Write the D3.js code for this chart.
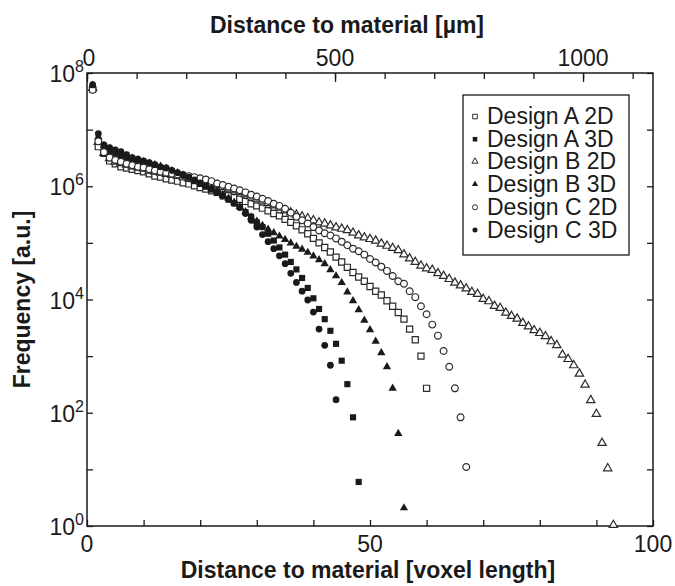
<!DOCTYPE html>
<html>
<head>
<meta charset="utf-8">
<script src="https://cdn.jsdelivr.net/npm/d3@7/dist/d3.min.js"></script>
<style>
  body { margin: 0; background: #fff; }
  svg { font-family: "Liberation Sans", Arial, sans-serif; }
</style>
</head>
<body>
<svg width="675" height="586"></svg>
<script>
// frequency per distance bin, bins start at 1 voxel and go up in steps of 1
var designA2D = [5.2e7, 5.0e6, 3.8e6, 2.8e6, 2.5e6, 2.2e6, 2.1e6, 2.0e6, 1.9e6, 1.8e6,
  1.66e6, 1.51e6, 1.45e6, 1.35e6, 1.29e6, 1.23e6, 1.15e6, 1.10e6, 1.02e6, 9.5e5,
  8.9e5, 8.3e5, 7.8e5, 7.2e5, 6.8e5, 6.3e5, 5.9e5, 5.4e5, 4.9e5, 4.5e5,
  4.1e5, 3.7e5, 3.3e5, 3.0e5, 2.6e5, 2.3e5, 2.0e5, 1.7e5, 1.45e5, 1.2e5,
  1.0e5, 8.3e4, 6.9e4, 5.6e4, 4.6e4, 3.7e4, 3.0e4, 2.5e4, 2.1e4, 1.7e4,
  1.4e4, 1.2e4, 9500, 7600, 5900, 4500, 3000, 1950, 1000, 270];

var designA3D = [5.6e7, 6.6e6, 5.0e6, 4.2e6, 3.8e6, 3.5e6, 3.2e6, 3.0e6, 2.75e6, 2.6e6,
  2.4e6, 2.2e6, 2.1e6, 1.95e6, 1.8e6, 1.6e6, 1.5e6, 1.35e6, 1.23e6, 1.1e6,
  9.8e5, 8.7e5, 7.6e5, 6.6e5, 5.8e5, 5.0e5, 4.3e5, 3.5e5, 2.9e5, 2.3e5,
  1.9e5, 1.45e5, 1.1e5, 8.3e4, 6.2e4, 4.6e4, 3.4e4, 2.4e4, 1.6e4, 1.05e4,
  6800, 4500, 2800, 1650, 830, 320, 83, 6];

var designB2D = [5.2e7, 5.8e6, 3.7e6, 3.0e6, 2.6e6, 2.45e6, 2.3e6, 2.15e6, 2.05e6, 1.95e6,
  1.8e6, 1.74e6, 1.66e6, 1.58e6, 1.51e6, 1.45e6, 1.38e6, 1.32e6, 1.26e6, 1.2e6,
  1.15e6, 1.07e6, 1.0e6, 9.3e5, 8.7e5, 8.1e5, 7.6e5, 6.9e5, 6.3e5, 5.8e5,
  5.2e5, 4.8e5, 4.4e5, 4.0e5, 3.6e5, 3.3e5, 3.0e5, 2.8e5, 2.6e5, 2.4e5,
  2.2e5, 2.1e5, 1.95e5, 1.8e5, 1.7e5, 1.6e5, 1.45e5, 1.3e5, 1.2e5, 1.12e5,
  1.05e5, 9.3e4, 8.5e4, 7.8e4, 7.1e4, 6.0e4, 5.1e4, 4.4e4, 3.8e4, 3.4e4,
  3.2e4, 2.8e4, 2.5e4, 2.2e4, 1.9e4, 1.7e4, 1.5e4, 1.3e4, 1.2e4, 9800,
  8900, 7400, 6800, 5600, 4900, 4400, 3700, 3200, 2750, 2450,
  2150, 1750, 1500, 1020, 850, 660, 470, 300, 160, 91,
  28, 10, 1];

var designB3D = [5.8e7, 7.1e6, 5.0e6, 4.4e6, 4.0e6, 3.6e6, 3.3e6, 3.0e6, 2.8e6, 2.6e6,
  2.45e6, 2.3e6, 2.15e6, 2.0e6, 1.8e6, 1.66e6, 1.5e6, 1.38e6, 1.26e6, 1.12e6,
  1.0e6, 8.9e5, 7.8e5, 6.8e5, 5.9e5, 5.0e5, 4.2e5, 3.4e5, 2.75e5, 2.3e5,
  1.95e5, 1.66e5, 1.45e5, 1.26e5, 1.1e5, 9.5e4, 8.3e4, 7.4e4, 6.5e4, 5.6e4,
  4.8e4, 4.1e4, 3.2e4, 2.5e4, 1.9e4, 1.3e4, 9100, 6300, 4100, 2800,
  1750, 1100, 620, 260, 41, 2];

var designC2D = [5.0e7, 6.2e6, 4.0e6, 3.2e6, 2.9e6, 2.7e6, 2.5e6, 2.35e6, 2.2e6, 2.15e6,
  2.0e6, 1.9e6, 1.8e6, 1.74e6, 1.66e6, 1.62e6, 1.58e6, 1.51e6, 1.45e6, 1.38e6,
  1.32e6, 1.23e6, 1.12e6, 1.05e6, 9.8e5, 9.1e5, 8.5e5, 7.8e5, 7.1e5, 6.6e5,
  6.0e5, 5.5e5, 4.9e5, 4.5e5, 4.0e5, 3.4e5, 2.9e5, 2.5e5, 2.2e5, 1.9e5,
  1.66e5, 1.48e5, 1.35e5, 1.2e5, 1.05e5, 9.1e4, 7.9e4, 7.1e4, 6.2e4, 5.2e4,
  4.5e4, 3.8e4, 3.2e4, 2.6e4, 2.1e4, 1.9e4, 1.4e4, 1.1e4, 7600, 5500,
  3600, 2300, 1230, 650, 270, 83, 11];

var designC3D = [6.2e7, 8.5e6, 5.4e6, 4.8e6, 4.4e6, 4.1e6, 3.6e6, 3.2e6, 3.0e6, 2.8e6,
  2.6e6, 2.4e6, 2.2e6, 2.1e6, 1.9e6, 1.74e6, 1.58e6, 1.45e6, 1.29e6, 1.15e6,
  1.02e6, 9.1e5, 7.9e5, 6.9e5, 5.9e5, 5.0e5, 4.2e5, 3.3e5, 2.5e5, 1.9e5,
  1.4e5, 1.05e5, 7.9e4, 5.9e4, 4.3e4, 2.9e4, 2.0e4, 1.4e4, 9800, 6000,
  3000, 1550, 690, 170];

var seriesNames = ["Design A 2D", "Design A 3D", "Design B 2D", "Design B 3D", "Design C 2D", "Design C 3D"];
var seriesValues = [designA2D, designA3D, designB2D, designB3D, designC2D, designC3D];
var seriesShapes = ["square", "square", "triangle", "triangle", "circle", "circle"];
var seriesFilled = [false, true, false, true, false, true];

var xTicks = [0, 10, 20, 30, 40, 50, 60, 70, 80, 90, 100];
var xLabels = [0, 50, 100];
var yTicks = [1, 1e1, 1e2, 1e3, 1e4, 1e5, 1e6, 1e7, 1e8];
var yLabels = [0, 2, 4, 6, 8];          // exponents that get a label
var umTicks = [0, 100, 200, 300, 400, 500, 600, 700, 800, 900, 1000, 1100];
var umLabels = [0, 500, 1000];
var umPerVoxel = 11.41;

// plot box (window.top is read-only, so no plain "top" here)
var plotL = 87, plotR = 653, plotT = 73, plotB = 526;
var ink = '#1a1a1a';

var svg = d3.select('svg');

var x = d3.scaleLinear().domain([0, 100]).range([plotL, plotR]);
var xUm = d3.scaleLinear().domain([0, 100 * umPerVoxel]).range([plotL, plotR]);
var y = d3.scaleLog().domain([1, 1e8]).range([plotB, plotT]);

var shapes = { square: d3.symbolSquare, triangle: d3.symbolTriangle, circle: d3.symbolCircle };
var sizes = { square: 38, triangle: 30, circle: 36 };

// ticks, all pointing inward
svg.append('g')
    .attr('transform', 'translate(0,' + plotB + ')')
    .call(d3.axisBottom(x).tickValues(xTicks).tickSize(-6).tickFormat(''));

svg.append('g')
    .attr('transform', 'translate(0,' + plotT + ')')
    .call(d3.axisTop(xUm).tickValues(umTicks).tickSize(-6).tickFormat(''));

svg.append('g')
    .attr('transform', 'translate(0,' + plotT + ')')
    .call(d3.axisTop(xUm).tickValues(umLabels).tickSize(-9).tickFormat(''));

svg.append('g')
    .attr('transform', 'translate(' + plotL + ',0)')
    .call(d3.axisLeft(y).tickValues(yTicks).tickSize(-6).tickFormat(''));

svg.append('g')
    .attr('transform', 'translate(' + plotR + ',0)')
    .call(d3.axisRight(y).tickValues(yTicks).tickSize(-6).tickFormat(''));

svg.selectAll('.domain').remove();
svg.selectAll('.tick line').attr('stroke', ink).attr('stroke-width', 1.3);

svg.append('rect')
    .attr('x', plotL).attr('y', plotT)
    .attr('width', plotR - plotL).attr('height', plotB - plotT)
    .attr('fill', 'none').attr('stroke', ink).attr('stroke-width', 1.5);

// tick labels
svg.selectAll('.xlab')
    .data(xLabels)
    .enter().append('text')
    .attr('x', function(d) { return x(d); })
    .attr('y', plotB + 26)
    .attr('text-anchor', 'middle')
    .attr('font-size', 23)
    .attr('fill', ink)
    .text(function(d) { return d; });

svg.selectAll('.umlab')
    .data(umLabels)
    .enter().append('text')
    .attr('x', function(d) { return xUm(d) + (d === 0 ? 2 : 0); })
    .attr('y', plotT - 7)
    .attr('text-anchor', 'middle')
    .attr('font-size', 23)
    .attr('fill', ink)
    .text(function(d) { return d; });

var ylab = svg.selectAll('.ylab')
    .data(yLabels)
    .enter().append('text')
    .attr('x', plotL - 3)
    .attr('y', function(d) { return y(Math.pow(10, d)) + 9; })
    .attr('text-anchor', 'end')
    .attr('fill', ink);
ylab.append('tspan').attr('font-size', 23).text('10');
ylab.append('tspan').attr('font-size', 16).attr('dy', -10).text(function(d) { return d; });

// axis titles
svg.append('text')
    .attr('x', 347).attr('y', 33)
    .attr('text-anchor', 'middle')
    .attr('font-size', 23).attr('font-weight', 'bold').attr('fill', ink)
    .text('Distance to material [µm]');

svg.append('text')
    .attr('x', 368).attr('y', 578)
    .attr('text-anchor', 'middle')
    .attr('font-size', 23).attr('font-weight', 'bold').attr('fill', ink)
    .text('Distance to material [voxel length]');

svg.append('text')
    .attr('transform', 'translate(30,' + (plotT + plotB) / 2 + ') rotate(-90)')
    .attr('text-anchor', 'middle')
    .attr('font-size', 23).attr('font-weight', 'bold').attr('fill', ink)
    .text('Frequency [a.u.]');

// data points
seriesValues.forEach(function(values, i) {
    var shape = seriesShapes[i];
    var sym = d3.symbol().type(shapes[shape]).size(sizes[shape]);
    svg.append('g')
        .selectAll('path')
        .data(values)
        .enter().append('path')
        .attr('d', sym)
        .attr('transform', function(d, j) {
            var dy = shape === 'triangle' ? -1 : 0;
            return 'translate(' + x(j + 1) + ',' + (y(d) + dy) + ')';
        })
        .attr('fill', seriesFilled[i] ? ink : '#fff')
        .attr('stroke', seriesFilled[i] ? 'none' : '#2a2a2a')
        .attr('stroke-width', 1.2);
});

// legend
var lg = svg.append('g').attr('transform', 'translate(463,95)');
lg.append('rect')
    .attr('width', 166).attr('height', 160)
    .attr('fill', '#fff').attr('stroke', ink).attr('stroke-width', 1.3);

seriesNames.forEach(function(name, i) {
    var row = lg.append('g').attr('transform', 'translate(0,' + (20 + i * 22.7) + ')');
    var shape = seriesShapes[i];
    row.append('path')
        .attr('d', d3.symbol().type(shapes[shape]).size(sizes[shape] * 0.55))
        .attr('transform', 'translate(12,' + (shape === 'triangle' ? 1 : 1.5) + ')')
        .attr('fill', seriesFilled[i] ? ink : '#fff')
        .attr('stroke', seriesFilled[i] ? 'none' : '#2a2a2a')
        .attr('stroke-width', 1);
    row.append('text')
        .attr('x', 24).attr('y', 9)
        .attr('font-size', 23).attr('fill', ink)
        .text(name);
});
</script>
</body>
</html>
